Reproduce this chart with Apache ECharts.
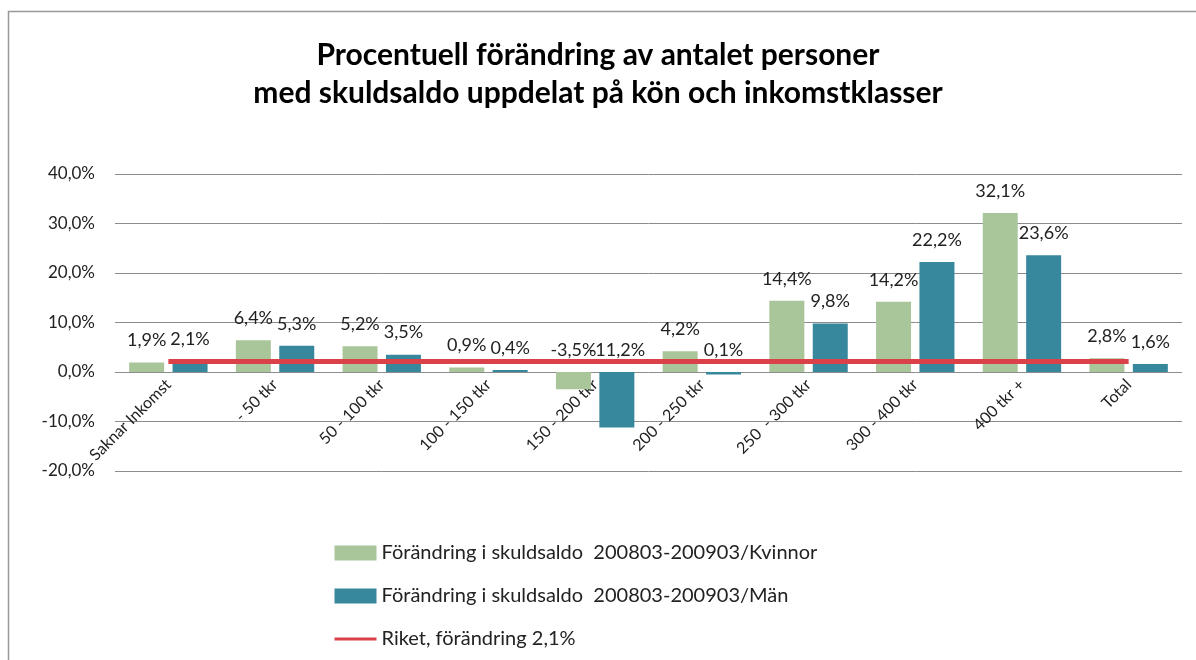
<!DOCTYPE html>
<html>
<head>
<meta charset="utf-8">
<script src="https://cdn.jsdelivr.net/npm/echarts@6/dist/echarts.min.js"></script>
<style>html,body{margin:0;padding:0;background:#fff}#c{width:1196px;height:660px}</style>
</head>
<body>
<div id="c"></div>
<script>
const categories = ['Saknar Inkomst', '- 50 tkr', '50 - 100 tkr', '100 - 150 tkr', '150 - 200 tkr', '200 - 250 tkr', '250  - 300 tkr', '300 - 400 tkr', '400 tkr +', 'Total'];
const kvinnor = [1.9, 6.4, 5.2, 0.9, -3.5, 4.2, 14.4, 14.2, 32.1, 2.8];
const man = [2.1, 5.3, 3.5, 0.4, -11.2, -0.5, 9.8, 22.2, 23.6, 1.6];
const kvinnorLabels = ['1,9%', '6,4%', '5,2%', '0,9%', '-3,5%', '4,2%', '14,4%', '14,2%', '32,1%', '2,8%'];
const manLabels = ['2,1%', '5,3%', '3,5%', '0,4%', '-11,2%', '0,1%', '9,8%', '22,2%', '23,6%', '1,6%'];
const riket = [2.1, 2.1, 2.1, 2.1, 2.1, 2.1, 2.1, 2.1, 2.1, 2.1];
const yTicks = { min: -20, max: 40, interval: 10 };
const seriesNames = ['Förändring i skuldsaldo  200803-200903/Kvinnor', 'Förändring i skuldsaldo  200803-200903/Män', 'Riket, förändring 2,1%'];

const FONT = 'Lato';
const chart = echarts.init(document.getElementById('c'), null, { renderer: 'canvas' });

function barLabel(labels) {
  return {
    show: true,
    position: 'top',
    distance: 13,
    fontFamily: FONT,
    fontSize: 18,
    color: '#222',
    formatter: p => labels[p.dataIndex]
  };
}

chart.setOption({
  backgroundColor: '#fff',
  animation: false,
  title: {
    text: 'Procentuell förändring av antalet personer\nmed skuldsaldo uppdelat på kön och inkomstklasser',
    left: 'center',
    top: 31,
    textStyle: { fontFamily: FONT, fontWeight: 'bold', fontSize: 30, lineHeight: 38, color: '#000' }
  },
  graphic: [{
    type: 'polyline',
    shape: { points: [[8.5, 700], [8.5, 11.5], [1200, 11.5]] },
    style: { stroke: '#999', lineWidth: 1.5, fill: null },
    silent: true
  }],
  legend: {
    orient: 'vertical',
    left: 328,
    top: 538,
    itemGap: 23,
    itemWidth: 42,
    itemHeight: 15,
    textStyle: { fontFamily: FONT, fontSize: 20, color: '#222' },
    data: [
      { name: seriesNames[0], icon: 'rect' },
      { name: seriesNames[1], icon: 'rect' },
      { name: seriesNames[2], lineStyle: { width: 3 }, itemStyle: { opacity: 0 } }
    ]
  },
  grid: { left: 115, right: 14, top: 174, bottom: 189, containLabel: false },
  xAxis: {
    type: 'category',
    data: categories,
    offset: -99,
    axisLine: { show: false, onZero: false },
    axisTick: { show: false },
    axisLabel: {
      rotate: 45,
      interval: 0,
      margin: 10,
      fontFamily: FONT,
      fontSize: 16,
      color: '#222'
    }
  },
  yAxis: {
    type: 'value',
    min: yTicks.min,
    max: yTicks.max,
    interval: yTicks.interval,
    axisLine: { show: false },
    axisTick: { show: false },
    splitLine: { lineStyle: { color: '#8c8c8c', width: 1 } },
    axisLabel: {
      margin: 20,
      fontFamily: FONT,
      fontSize: 17,
      color: '#222',
      formatter: v => v.toFixed(1).replace('.', ',') + '%'
    }
  },
  series: [
    {
      name: seriesNames[0],
      type: 'bar',
      data: kvinnor,
      barWidth: 35,
      barGap: '24%',
      itemStyle: { color: '#a9c69a' },
      label: barLabel(kvinnorLabels)
    },
    {
      name: seriesNames[1],
      type: 'bar',
      data: man,
      barWidth: 35,
      itemStyle: { color: '#38889d' },
      label: barLabel(manLabels)
    },
    {
      name: seriesNames[2],
      type: 'line',
      data: riket,
      symbol: 'none',
      lineStyle: { color: '#db4148', width: 5 },
      itemStyle: { color: '#db4148' },
      z: 5
    }
  ]
});
</script>
</body>
</html>
